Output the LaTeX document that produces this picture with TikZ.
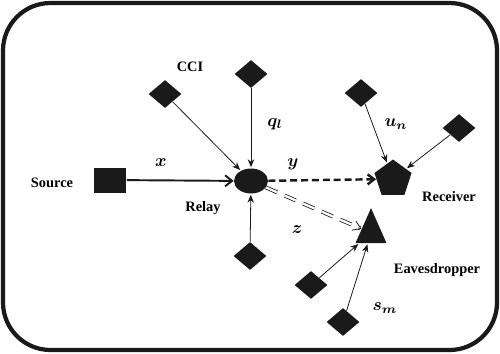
\documentclass[tikz,border=0pt]{standalone}
\usepackage{fontspec}
\setmainfont{Liberation Serif}
\usetikzlibrary{shapes.geometric}
\usetikzlibrary{arrows.meta}
\definecolor{ink}{HTML}{1A1A1A}
\tikzset{
  % interfering nodes (CCI and the ones round receiver / eavesdropper)
  intf/.style={fill=ink, diamond, inner sep=0pt, minimum width=0.66cm, minimum height=0.56cm},
  % terminals
  srcbox/.style={fill=ink, rectangle, inner sep=0pt, minimum width=0.66cm, minimum height=0.5cm},
  relaybox/.style={fill=ink, ellipse, inner sep=0pt, minimum width=0.68cm, minimum height=0.5cm},
  rxbox/.style={fill=ink, regular polygon, regular polygon sides=5, inner sep=0pt, minimum size=0.78cm},
  evebox/.style={fill=ink, isosceles triangle, isosceles triangle stretches, shape border rotate=90,
    inner sep=0pt, minimum width=0.62cm, minimum height=0.7cm},
  % texts
  lbl/.style={font=\fontsize{8.2}{10}\selectfont\bfseries, inner sep=1pt},
  mlbl/.style={font=\fontsize{9.6}{11}\selectfont\boldmath, inner sep=1pt},
  % links
  thin/.style={-{Stealth[length=1.6mm, width=1.3mm]}, draw=ink, line width=0.45pt, shorten >=0.5pt},
  main/.style={-{Straight Barb[length=1.4mm, width=2.2mm]}, draw=ink, line width=1.1pt},
  tx/.style={-{Straight Barb[length=1.3mm, width=2mm]}, draw=ink, line width=1.4pt, dash pattern=on 4pt off 2.2pt},
  leak/.style={-{Straight Barb[length=1.5mm, width=2mm]}, draw=ink, line width=0.45pt, double, double distance=1.3pt,
    dash pattern=on 7pt off 4.5pt},
}

\begin{document}
\begin{tikzpicture}[x=0.02cm, y=-0.02cm]
  \useasboundingbox (0,0) rectangle (500,353);
  \draw[ink, line width=2.4pt, rounded corners=0.95cm] (3,3) rectangle (497,350);

  % terminals
  \node[srcbox] (src) at (110,180) {};
  \node[relaybox] (relay) at (251,181) {};
  \node[rxbox] (rx) at (393,179) {};
  \node[evebox] (eve) at (371,233) {};

  % interferers
  \node[intf] (c1) at (165,94) {};
  \node[intf] (c2) at (251,74) {};
  \node[intf] (c3) at (250,256) {};
  \node[intf] (u1) at (361,93) {};
  \node[intf] (u2) at (459,128) {};
  \node[intf] (s1) at (311,285) {};
  \node[intf] (s2) at (343,322) {};

  % labels
  \node[lbl] (lsrc) at (52,183) {Source};
  \node[lbl] (lrelay) at (203,208) {Relay};
  \node[lbl] (lrx) at (449,197) {Receiver};
  \node[lbl] (leve) at (437,270) {Eavesdropper};
  \node[lbl] (lcci) at (190,67) {CCI};
  \node[mlbl] (lx) at (161,163) {$x$};
  \node[mlbl] (ly) at (293,164) {$y$};
  \node[mlbl] (lz) at (297,230) {$z$};
  \node[mlbl] (lq) at (275,124) {$q_l$};
  \node[mlbl] (lu) at (396,124) {$u_n$};
  \node[mlbl] (ls) at (385,308) {$s_m$};

  % links
  \draw[main] (src) -- (relay);
  \draw[tx] (relay) -- (rx);
  \draw[leak] (relay) -- (eve);
  \draw[thin] (c1) -- (relay);
  \draw[thin] (c2) -- (relay);
  \draw[thin] (c3) -- (relay);
  \draw[thin] (u1) -- (rx);
  \draw[thin] (u2) -- (rx);
  \draw[thin] (s1) -- (eve);
  \draw[thin] (s2) -- (eve);

\end{tikzpicture}
\end{document}
